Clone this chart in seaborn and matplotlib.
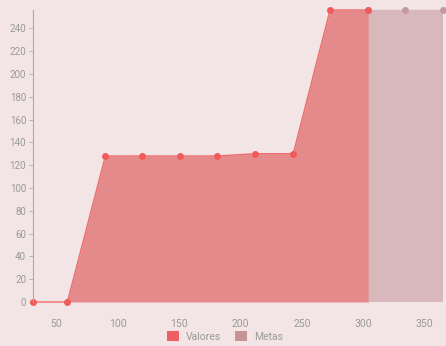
import matplotlib
matplotlib.use("Agg")
import matplotlib.pyplot as plt
from matplotlib.patches import Patch
import seaborn as sns
import pandas as pd

days_valores = [31, 59, 90, 120, 151, 181, 212, 243, 273, 304]
valores = [0, 0, 128, 128, 128, 128, 130, 130, 256, 256]
days_metas = [304, 334, 365]
metas = [256, 256, 256]
x_ticks = [50, 100, 150, 200, 250, 300, 350]
y_ticks = list(range(0, 241, 20))

bg = "#f3e5e6"
sns.set_theme(style="white")
plt.rcParams['font.family'] = ['Roboto', 'DejaVu Sans']

fig = plt.figure(figsize=(4.46, 3.46), dpi=100, facecolor=bg)
ax = fig.add_axes([33/446, 44/346, 410/446, 292/346])
ax.set_facecolor(bg)

dv = pd.DataFrame({"x": days_valores, "y": valores})
dm = pd.DataFrame({"x": days_metas, "y": metas})

ax.fill_between(dm["x"], 0, dm["y"], color="#d9b8bb", linewidth=0)
ax.fill_between(dv["x"], 0, dv["y"], color="#e48a8a", linewidth=0)
sns.lineplot(data=dm, x="x", y="y", ax=ax, color="#d9b8bb", marker="o",
             markersize=5, markeredgewidth=0, markerfacecolor="#c49a9c", linewidth=1,
             clip_on=False)
sns.lineplot(data=dv, x="x", y="y", ax=ax, color="#ef6b6b", marker="o",
             markersize=5, markeredgewidth=0, markerfacecolor="#f05a5a", linewidth=1,
             clip_on=False)

ax.set_xlim(31, 365)
ax.set_ylim(0, 256)
ax.set_xticks(x_ticks)
ax.set_yticks(y_ticks)
ax.set_xlabel("")
ax.set_ylabel("")
for s in ["top", "right", "bottom"]:
    ax.spines[s].set_visible(False)
ax.spines["left"].set_color("#b0a8a8")
ax.spines["left"].set_linewidth(0.8)
ax.tick_params(axis="y", which="both", left=True, length=3, width=0.6, color="#b0a8a8",
               labelsize=7, labelcolor="#999999", pad=2)
ax.tick_params(axis="x", which="both", bottom=False, labelsize=7.5, labelcolor="#999999", pad=6)
ax.grid(False)

handles = [Patch(facecolor="#ef5e5e", edgecolor="none", label="Valores"),
           Patch(facecolor="#c49496", edgecolor="none", label="Metas")]
fig.legend(handles=handles, loc="lower center", bbox_to_anchor=(0.505, -0.015), ncol=2,
           frameon=False, fontsize=7.5, labelcolor="#999999", handlelength=1.15,
           handleheight=1.15, handletextpad=0.7, columnspacing=1.3)

fig.savefig("out.png", dpi=100, facecolor=bg)
